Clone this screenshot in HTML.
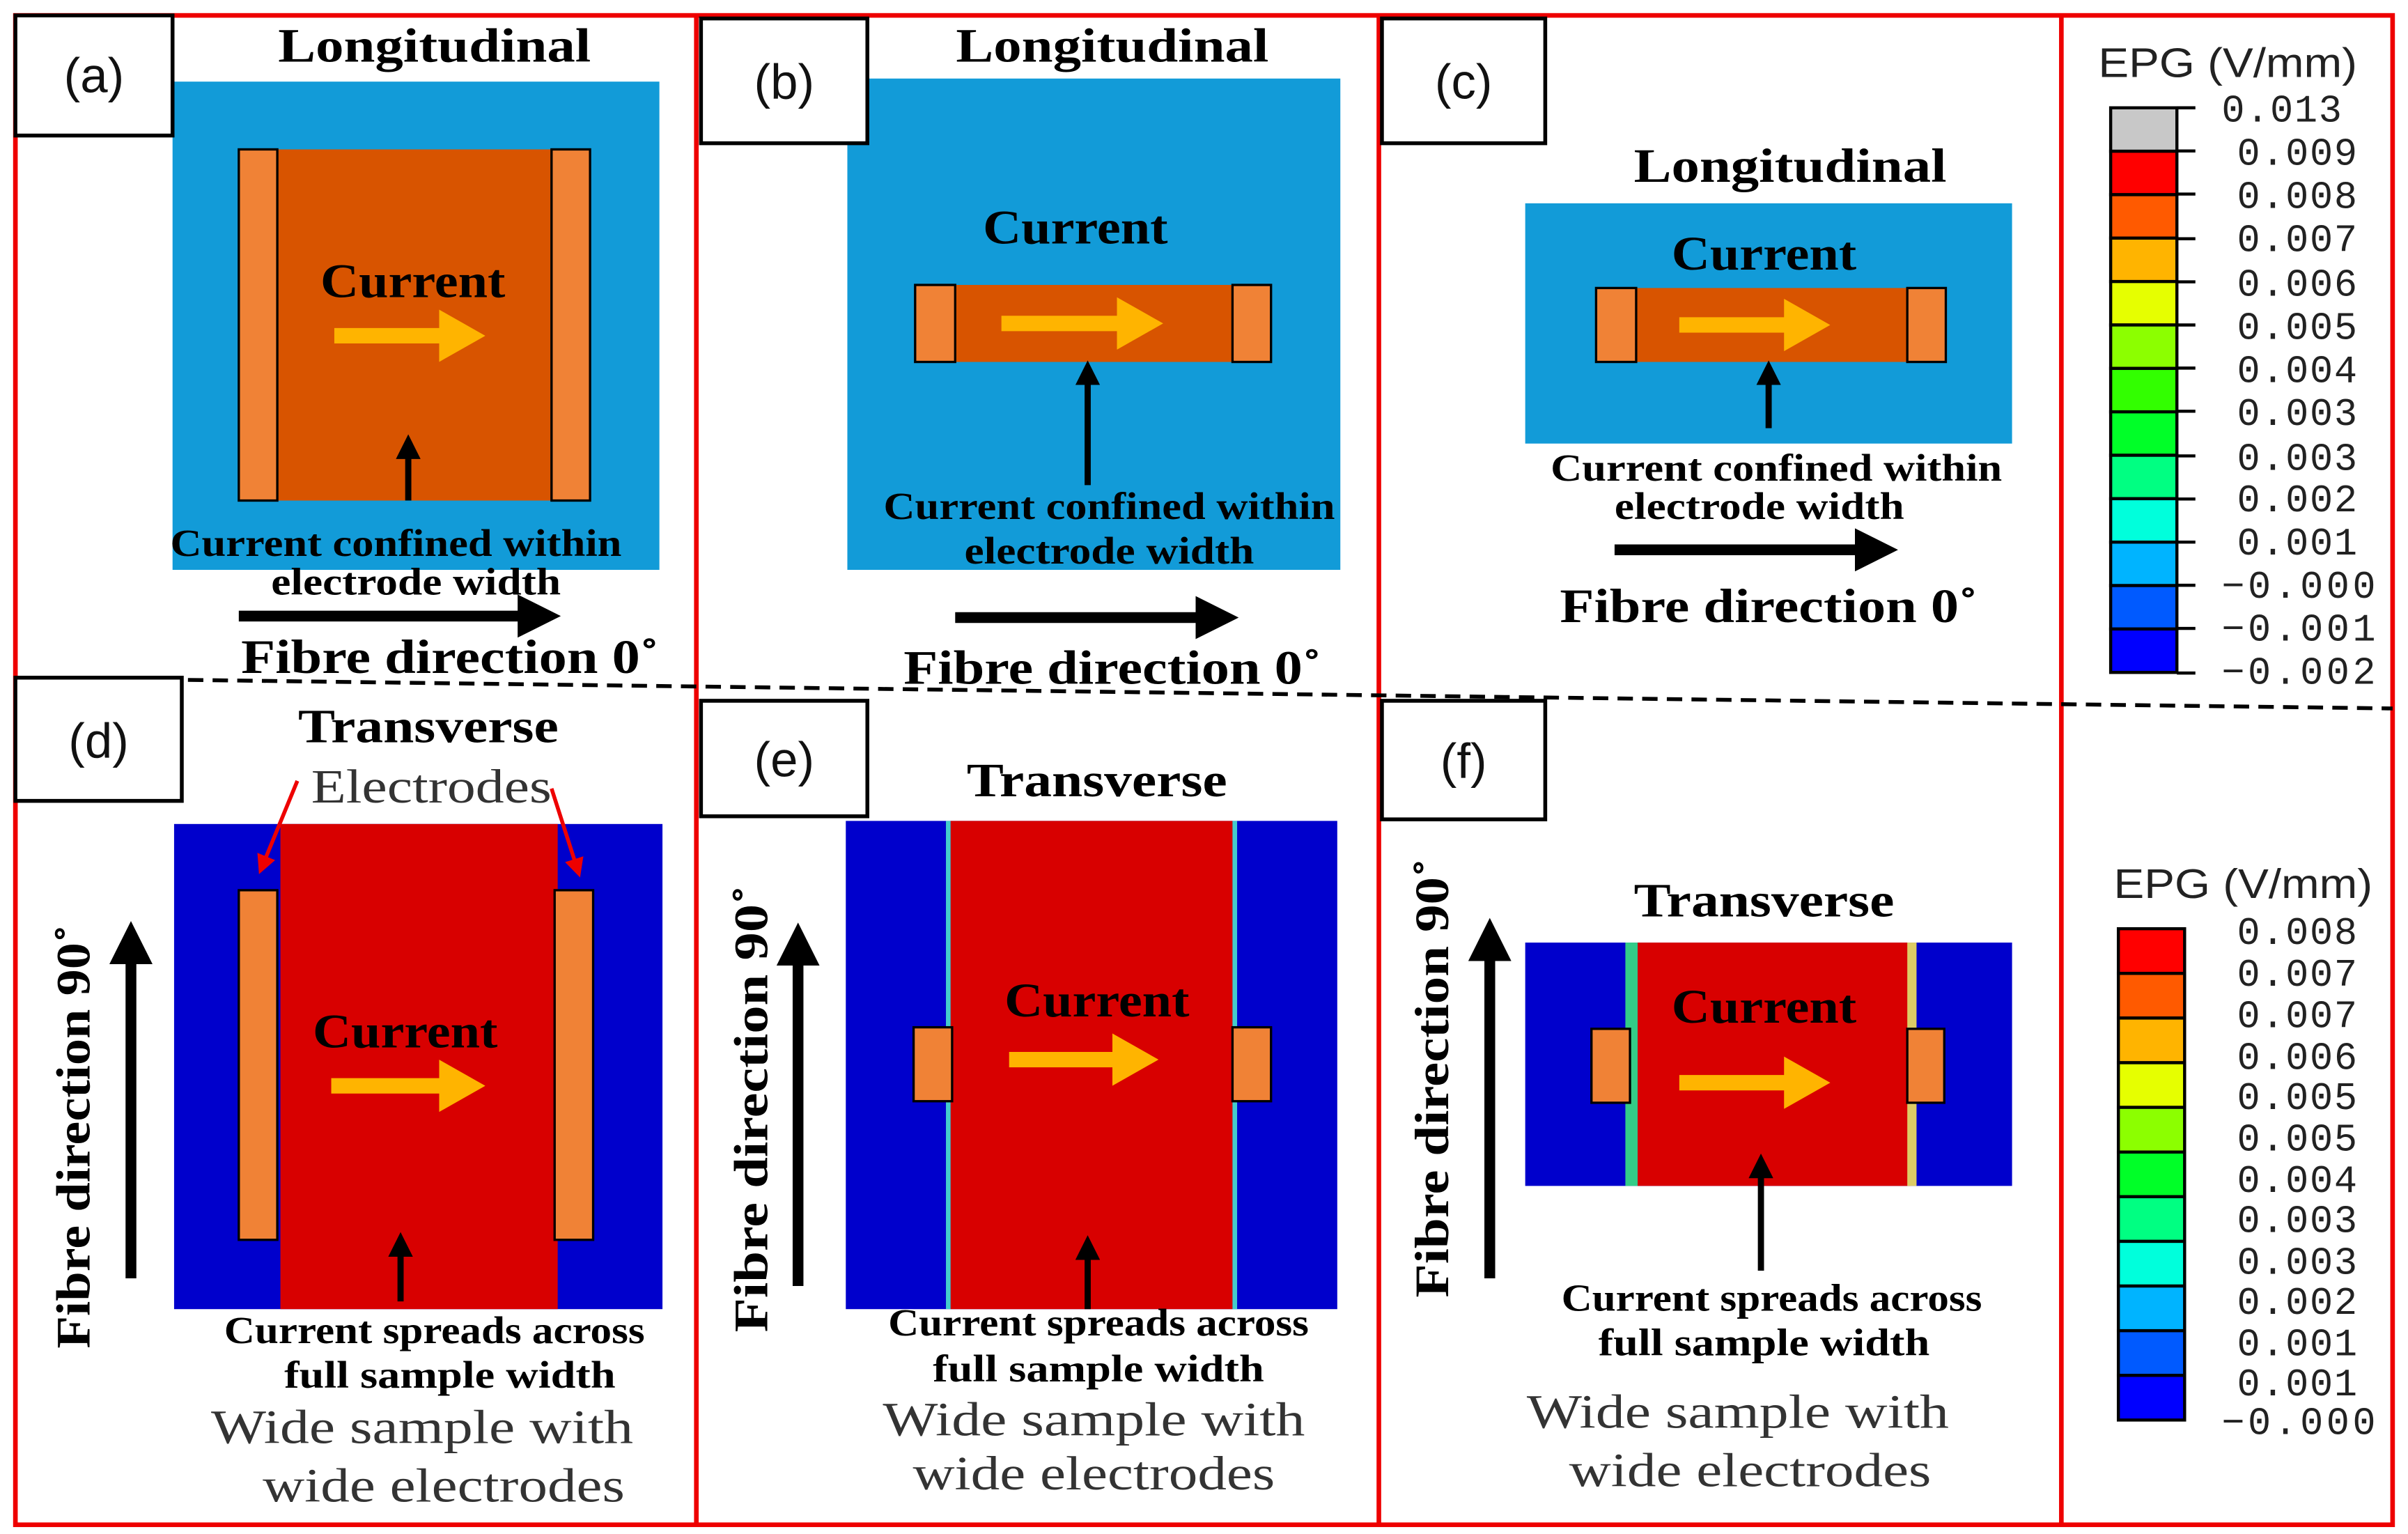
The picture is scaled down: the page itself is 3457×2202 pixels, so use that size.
<!DOCTYPE html>
<html><head><meta charset="utf-8"><style>html,body{margin:0;padding:0;background:#fff}svg{display:block}</style></head>
<body>
<svg width="3457" height="2202" viewBox="0 0 1563 996" preserveAspectRatio="none" xmlns="http://www.w3.org/2000/svg" font-family="Liberation Serif, serif">
<defs>
<marker id="ab" markerWidth="4" markerHeight="4" refX="2" refY="2" orient="auto" markerUnits="strokeWidth"><path d="M0,0 L4,2 L0,4 z" fill="#000"/></marker>
<marker id="ay" markerWidth="3" markerHeight="3.4" refX="1.5" refY="1.7" orient="auto" markerUnits="strokeWidth"><path d="M0,0 L3,1.7 L0,3.4 z" fill="#ffb400"/></marker>
<marker id="ar" markerWidth="5" markerHeight="5" refX="3" refY="2.5" orient="auto" markerUnits="strokeWidth"><path d="M0,0 L5,2.5 L0,5 z" fill="#e00"/></marker>
</defs>
<rect x="0" y="0" width="1563" height="996" fill="#fff"/>
<rect x="10" y="10" width="1543" height="980" fill="none" stroke="#e00" stroke-width="3"/>
<line x1="452" y1="10" x2="452" y2="990" stroke="#e00" stroke-width="3"/>
<line x1="895" y1="10" x2="895" y2="990" stroke="#e00" stroke-width="3"/>
<line x1="1338" y1="10" x2="1338" y2="990" stroke="#e00" stroke-width="3"/>
<line x1="10" y1="440" x2="1553" y2="460" stroke="#000" stroke-width="2.5" stroke-dasharray="10,6"/>

<g font-weight="bold" font-size="31" text-anchor="middle" lengthAdjust="spacingAndGlyphs">
<!-- (a) -->
<rect x="112" y="53" width="316" height="317" fill="#129bd8"/>
<rect x="180" y="97" width="180" height="228" fill="#d85400"/>
<rect x="155" y="97" width="25" height="228" fill="#f08236" stroke="#000" stroke-width="1.5"/>
<rect x="358" y="97" width="25" height="228" fill="#f08236" stroke="#000" stroke-width="1.5"/>
<text x="282" y="40" textLength="203" lengthAdjust="spacingAndGlyphs">Longitudinal</text>
<text x="268" y="193" textLength="120" lengthAdjust="spacingAndGlyphs">Current</text>
<line x1="217" y1="218" x2="300" y2="218" stroke="#ffb400" stroke-width="10" marker-end="url(#ay)"/>
<line x1="265" y1="325" x2="265" y2="290" stroke="#000" stroke-width="4" marker-end="url(#ab)"/>
<text x="257" y="361" font-size="25" textLength="293" lengthAdjust="spacingAndGlyphs">Current confined within</text>
<text x="270" y="386" font-size="25" textLength="188" lengthAdjust="spacingAndGlyphs">electrode width</text>
<line x1="155" y1="400" x2="350" y2="400" stroke="#000" stroke-width="7" marker-end="url(#ab)"/>
<text x="292" y="437" textLength="271" lengthAdjust="spacingAndGlyphs">Fibre direction 0˚</text>

<!-- (b) -->
<rect x="550" y="51" width="320" height="319" fill="#129bd8"/>
<rect x="620" y="185" width="180" height="50" fill="#d85400"/>
<rect x="594" y="185" width="26" height="50" fill="#f08236" stroke="#000" stroke-width="1.5"/>
<rect x="800" y="185" width="25" height="50" fill="#f08236" stroke="#000" stroke-width="1.5"/>
<text x="722" y="40" textLength="203" lengthAdjust="spacingAndGlyphs">Longitudinal</text>
<text x="698" y="158" textLength="120" lengthAdjust="spacingAndGlyphs">Current</text>
<line x1="650" y1="210" x2="740" y2="210" stroke="#ffb400" stroke-width="10" marker-end="url(#ay)"/>
<line x1="706" y1="315" x2="706" y2="242" stroke="#000" stroke-width="4" marker-end="url(#ab)"/>
<text x="720" y="337" font-size="25" textLength="293" lengthAdjust="spacingAndGlyphs">Current confined within</text>
<text x="720" y="366" font-size="25" textLength="188" lengthAdjust="spacingAndGlyphs">electrode width</text>
<line x1="620" y1="401" x2="790" y2="401" stroke="#000" stroke-width="7" marker-end="url(#ab)"/>
<text x="722" y="444" textLength="271" lengthAdjust="spacingAndGlyphs">Fibre direction 0˚</text>

<!-- (c) -->
<rect x="990" y="132" width="316" height="156" fill="#129bd8"/>
<rect x="1060" y="187" width="180" height="48" fill="#d85400"/>
<rect x="1036" y="187" width="26" height="48" fill="#f08236" stroke="#000" stroke-width="1.5"/>
<rect x="1238" y="187" width="25" height="48" fill="#f08236" stroke="#000" stroke-width="1.5"/>
<text x="1162" y="118" textLength="203" lengthAdjust="spacingAndGlyphs">Longitudinal</text>
<text x="1145" y="175" textLength="120" lengthAdjust="spacingAndGlyphs">Current</text>
<line x1="1090" y1="211" x2="1173" y2="211" stroke="#ffb400" stroke-width="10" marker-end="url(#ay)"/>
<line x1="1148" y1="278" x2="1148" y2="242" stroke="#000" stroke-width="4" marker-end="url(#ab)"/>
<text x="1153" y="312" font-size="25" textLength="293" lengthAdjust="spacingAndGlyphs">Current confined within</text>
<text x="1142" y="337" font-size="25" textLength="188" lengthAdjust="spacingAndGlyphs">electrode width</text>
<line x1="1048" y1="357" x2="1218" y2="357" stroke="#000" stroke-width="7" marker-end="url(#ab)"/>
<text x="1148" y="404" textLength="271" lengthAdjust="spacingAndGlyphs">Fibre direction 0˚</text>

<!-- (d) -->
<rect x="113" y="535" width="317" height="315" fill="#0000cc"/>
<rect x="182" y="535" width="180" height="315" fill="#d80000"/>
<rect x="155" y="578" width="25" height="227" fill="#f08236" stroke="#000" stroke-width="1.5"/>
<rect x="360" y="578" width="25" height="227" fill="#f08236" stroke="#000" stroke-width="1.5"/>
<text x="278" y="482" textLength="169" lengthAdjust="spacingAndGlyphs">Transverse</text>
<text x="280" y="521" font-weight="normal" fill="#333" textLength="156" lengthAdjust="spacingAndGlyphs">Electrodes</text>
<line x1="193" y1="507" x2="170" y2="563" stroke="#e00" stroke-width="2.5" marker-end="url(#ar)"/>
<line x1="358" y1="512" x2="375" y2="565" stroke="#e00" stroke-width="2.5" marker-end="url(#ar)"/>
<text x="263" y="680" textLength="120" lengthAdjust="spacingAndGlyphs">Current</text>
<line x1="215" y1="705" x2="300" y2="705" stroke="#ffb400" stroke-width="10" marker-end="url(#ay)"/>
<line x1="260" y1="845" x2="260" y2="808" stroke="#000" stroke-width="4" marker-end="url(#ab)"/>
<text x="282" y="872" font-size="25" textLength="273" lengthAdjust="spacingAndGlyphs">Current spreads across</text>
<text x="292" y="901" font-size="25" textLength="215" lengthAdjust="spacingAndGlyphs">full sample width</text>
<text x="274" y="937" font-weight="normal" fill="#333" textLength="274" lengthAdjust="spacingAndGlyphs">Wide sample with</text>
<text x="288" y="975" font-weight="normal" fill="#333" textLength="235" lengthAdjust="spacingAndGlyphs">wide electrodes</text>
<text transform="translate(58,738) rotate(-90)" textLength="275" lengthAdjust="spacingAndGlyphs">Fibre direction 90˚</text>
<line x1="85" y1="830" x2="85" y2="612" stroke="#000" stroke-width="7" marker-end="url(#ab)"/>

<!-- (e) -->
<rect x="549" y="533" width="319" height="317" fill="#0000cc"/>
<rect x="617" y="533" width="183" height="317" fill="#d80000"/>
<rect x="614" y="533" width="3" height="317" fill="#4cc"/>
<rect x="800" y="533" width="3" height="317" fill="#4cc"/>
<rect x="593" y="667" width="25" height="48" fill="#f08236" stroke="#000" stroke-width="1.5"/>
<rect x="800" y="667" width="25" height="48" fill="#f08236" stroke="#000" stroke-width="1.5"/>
<text x="712" y="517" textLength="169" lengthAdjust="spacingAndGlyphs">Transverse</text>
<text x="712" y="660" textLength="120" lengthAdjust="spacingAndGlyphs">Current</text>
<line x1="655" y1="688" x2="737" y2="688" stroke="#ffb400" stroke-width="10" marker-end="url(#ay)"/>
<line x1="706" y1="850" x2="706" y2="810" stroke="#000" stroke-width="4" marker-end="url(#ab)"/>
<text x="713" y="867" font-size="25" textLength="273" lengthAdjust="spacingAndGlyphs">Current spreads across</text>
<text x="713" y="897" font-size="25" textLength="215" lengthAdjust="spacingAndGlyphs">full sample width</text>
<text x="710" y="932" font-weight="normal" fill="#333" textLength="274" lengthAdjust="spacingAndGlyphs">Wide sample with</text>
<text x="710" y="967" font-weight="normal" fill="#333" textLength="235" lengthAdjust="spacingAndGlyphs">wide electrodes</text>
<text transform="translate(498,720) rotate(-90)" textLength="290" lengthAdjust="spacingAndGlyphs">Fibre direction 90˚</text>
<line x1="518" y1="835" x2="518" y2="613" stroke="#000" stroke-width="7" marker-end="url(#ab)"/>

<!-- (f) -->
<rect x="990" y="612" width="316" height="158" fill="#0000cc"/>
<rect x="1055" y="612" width="8" height="158" fill="#3c8"/>
<rect x="1063" y="612" width="177" height="158" fill="#d80000"/>
<rect x="1238" y="612" width="6" height="158" fill="#dc6"/>
<rect x="1033" y="668" width="25" height="48" fill="#f08236" stroke="#000" stroke-width="1.5"/>
<rect x="1238" y="668" width="24" height="48" fill="#f08236" stroke="#000" stroke-width="1.5"/>
<text x="1145" y="595" textLength="169" lengthAdjust="spacingAndGlyphs">Transverse</text>
<text x="1145" y="664" textLength="120" lengthAdjust="spacingAndGlyphs">Current</text>
<line x1="1090" y1="703" x2="1173" y2="703" stroke="#ffb400" stroke-width="10" marker-end="url(#ay)"/>
<line x1="1143" y1="825" x2="1143" y2="757" stroke="#000" stroke-width="4" marker-end="url(#ab)"/>
<text x="1150" y="851" font-size="25" textLength="273" lengthAdjust="spacingAndGlyphs">Current spreads across</text>
<text x="1145" y="880" font-size="25" textLength="215" lengthAdjust="spacingAndGlyphs">full sample width</text>
<text x="1128" y="927" font-weight="normal" fill="#333" textLength="274" lengthAdjust="spacingAndGlyphs">Wide sample with</text>
<text x="1136" y="965" font-weight="normal" fill="#333" textLength="235" lengthAdjust="spacingAndGlyphs">wide electrodes</text>
<text transform="translate(940,700) rotate(-90)" textLength="285" lengthAdjust="spacingAndGlyphs">Fibre direction 90˚</text>
<line x1="967" y1="830" x2="967" y2="610" stroke="#000" stroke-width="7" marker-end="url(#ab)"/>
</g>

<g fill="#fff" stroke="#000" stroke-width="2.5">
<rect x="10" y="10" width="102" height="78"/>
<rect x="455" y="12" width="108" height="81"/>
<rect x="897" y="12" width="106" height="81"/>
<rect x="10" y="440" width="108" height="80"/>
<rect x="455" y="455" width="108" height="75"/>
<rect x="897" y="455" width="106" height="77"/>
</g>
<g font-family="Liberation Sans, sans-serif" font-size="32" text-anchor="middle" fill="#111">
<text x="61" y="60">(a)</text>
<text x="509" y="64">(b)</text>
<text x="950" y="64">(c)</text>
<text x="64" y="492">(d)</text>
<text x="509" y="504">(e)</text>
<text x="950" y="505">(f)</text>
</g>

<g font-family="Liberation Sans, sans-serif">
<text x="1446" y="50" font-size="27" text-anchor="middle" fill="#222" textLength="168" lengthAdjust="spacingAndGlyphs">EPG (V/mm)</text>
<g stroke="#000" stroke-width="2">
<rect x="1370" y="70" width="43" height="28.2" fill="#c8c8c8"/>
<rect x="1370" y="98.2" width="43" height="28.2" fill="#ff0000"/>
<rect x="1370" y="126.4" width="43" height="28.2" fill="#ff5a00"/>
<rect x="1370" y="154.6" width="43" height="28.2" fill="#ffb400"/>
<rect x="1370" y="182.8" width="43" height="28.2" fill="#e6ff00"/>
<rect x="1370" y="211" width="43" height="28.2" fill="#8cff00"/>
<rect x="1370" y="239.2" width="43" height="28.2" fill="#32ff00"/>
<rect x="1370" y="267.4" width="43" height="28.2" fill="#00ff28"/>
<rect x="1370" y="295.6" width="43" height="28.2" fill="#00ff82"/>
<rect x="1370" y="323.8" width="43" height="28.2" fill="#00ffdc"/>
<rect x="1370" y="352" width="43" height="28.2" fill="#00b4ff"/>
<rect x="1370" y="380.2" width="43" height="28.2" fill="#005aff"/>
<rect x="1370" y="408.4" width="43" height="28.2" fill="#0000ff"/>
</g>
<g stroke="#000" stroke-width="2">
<line x1="1413" y1="70" x2="1425" y2="70"/><line x1="1413" y1="98" x2="1425" y2="98"/><line x1="1413" y1="126" x2="1425" y2="126"/><line x1="1413" y1="155" x2="1425" y2="155"/><line x1="1413" y1="183" x2="1425" y2="183"/><line x1="1413" y1="211" x2="1425" y2="211"/><line x1="1413" y1="239" x2="1425" y2="239"/><line x1="1413" y1="267" x2="1425" y2="267"/><line x1="1413" y1="296" x2="1425" y2="296"/><line x1="1413" y1="324" x2="1425" y2="324"/><line x1="1413" y1="352" x2="1425" y2="352"/><line x1="1413" y1="380" x2="1425" y2="380"/><line x1="1413" y1="408" x2="1425" y2="408"/><line x1="1413" y1="437" x2="1425" y2="437"/>
</g>
<g font-size="25" fill="#222" font-family="Liberation Mono, monospace">
<text x="1442" y="79" textLength="78">0.013</text><text x="1452" y="107" textLength="78">0.009</text><text x="1452" y="135" textLength="78">0.008</text><text x="1452" y="163" textLength="78">0.007</text><text x="1452" y="192" textLength="78">0.006</text><text x="1452" y="220" textLength="78">0.005</text><text x="1452" y="248" textLength="78">0.004</text><text x="1452" y="276" textLength="78">0.003</text><text x="1452" y="305" textLength="78">0.003</text><text x="1452" y="332" textLength="78">0.002</text><text x="1452" y="360" textLength="78">0.001</text><text x="1442" y="388" textLength="100">−0.000</text><text x="1442" y="416" textLength="100">−0.001</text><text x="1442" y="444" textLength="100">−0.002</text>
</g>
<text x="1456" y="583" font-size="27" text-anchor="middle" fill="#222" textLength="168" lengthAdjust="spacingAndGlyphs">EPG (V/mm)</text>
<g stroke="#000" stroke-width="2">
<rect x="1375" y="603" width="43" height="29" fill="#ff0000"/>
<rect x="1375" y="632" width="43" height="29" fill="#ff5a00"/>
<rect x="1375" y="661" width="43" height="29" fill="#ffb400"/>
<rect x="1375" y="690" width="43" height="29" fill="#e6ff00"/>
<rect x="1375" y="719" width="43" height="29" fill="#8cff00"/>
<rect x="1375" y="748" width="43" height="29" fill="#00ff28"/>
<rect x="1375" y="777" width="43" height="29" fill="#00ff82"/>
<rect x="1375" y="806" width="43" height="29" fill="#00ffdc"/>
<rect x="1375" y="835" width="43" height="29" fill="#00b4ff"/>
<rect x="1375" y="864" width="43" height="29" fill="#005aff"/>
<rect x="1375" y="893" width="43" height="29" fill="#0000ff"/>
</g>
<g font-size="25" fill="#222" font-family="Liberation Mono, monospace">
<text x="1452" y="613" textLength="78">0.008</text><text x="1452" y="640" textLength="78">0.007</text><text x="1452" y="667" textLength="78">0.007</text><text x="1452" y="694" textLength="78">0.006</text><text x="1452" y="720" textLength="78">0.005</text><text x="1452" y="747" textLength="78">0.005</text><text x="1452" y="774" textLength="78">0.004</text><text x="1452" y="800" textLength="78">0.003</text><text x="1452" y="827" textLength="78">0.003</text><text x="1452" y="853" textLength="78">0.002</text><text x="1452" y="880" textLength="78">0.001</text><text x="1452" y="906" textLength="78">0.001</text><text x="1442" y="931" textLength="100">−0.000</text>
</g>
</g>
</svg>
</body></html>
